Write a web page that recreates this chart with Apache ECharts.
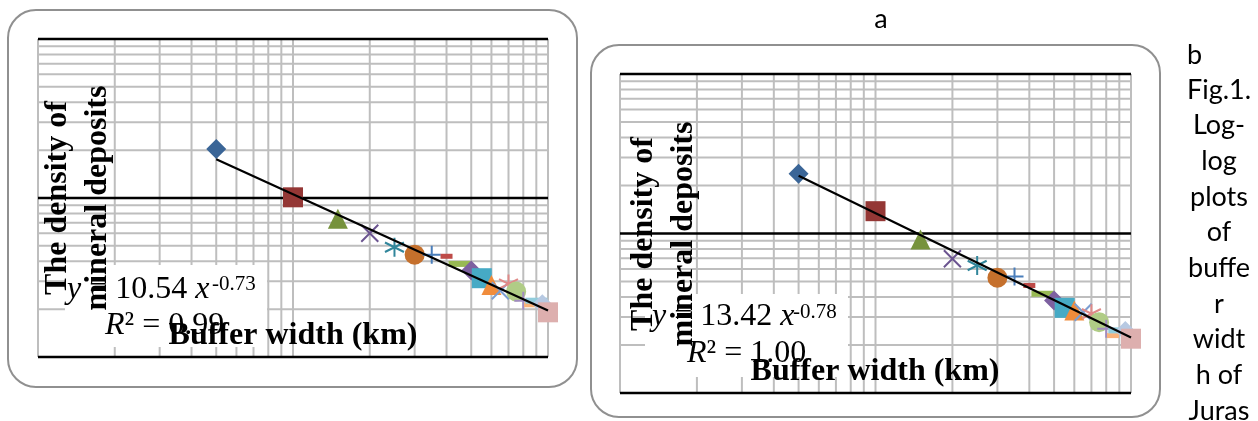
<!DOCTYPE html>
<html><head><meta charset="utf-8">
<script src="https://cdn.jsdelivr.net/npm/echarts@6/dist/echarts.min.js"></script>
<style>html,body{margin:0;padding:0;background:#fff;}#c{width:1258px;height:421px;}</style>
</head><body><div id="c"></div>
<script>
// ---------- data ----------
const bufferWidths = [0.5,1,1.5,2,2.5,3,3.5,4,4.5,5,5.5,6,6.5,7,7.5,8,8.5,9,9.5,10];
const densityA = [20.3,10.1,7.4,6.0,4.9,4.4,4.4,4.3,3.85,3.5,3.13,2.84,2.61,2.88,2.58,2.26,2.13,2.26,2.15,1.91];
const densityB = [23.7,13.8,9.17,6.94,6.3,5.28,5.38,4.72,4.19,3.8,3.42,3.29,3.21,3.14,2.78,2.53,2.29,2.47,2.45,2.19];
const trendA = [[0.5,17.5],[10,1.96]];
const trendB = [[0.5,23.0],[10,2.23]];
const xExtent = [0.1, 10];
const yExtent = [1, 100];
const xGridValues = [0.1,0.2,0.3,0.4,0.5,0.6,0.7,0.8,0.9,1,2,3,4,5,6,7,8,9,10];
const yGridMinor = [2,3,4,5,6,7,8,9,20,30,40,50,60,70,80,90];
const yGridMajor = [1,10,100];
const equationA = ['10.54', '-0.73', '0.99'];
const equationB = ['13.42', '-0.78', '1.00'];
const xTitle = 'Buffer width (km)';
const yTitle = 'The density of\nmineral deposits';
const sideText = 'Fig.1.\nLog-\nlog\nplots\nof\nbuffe\nr\nwidt\nh of\nJuras';

// ---------- styles ----------
const markerKinds = ['diamond','square','triangle','x','star','circle','plus','dash','longdash',
  'diamond','square','triangle','x','star','circle','plus','dash','longdash','diamond','square'];
const markerColors = ['#3A6597','#943735','#76923C','#6B5490','#31869B','#C5702C','#4A7EBB','#BE4B48','#98B954',
  '#7D60A0','#46AAC5','#F08C3C','#7B9ED2','#E08A88','#B0CC86','#A08BC0','#F9B27A','#92CDDC','#B7C9E2','#DDAFAE'];
const SERIF = '"Liberation Serif","Times New Roman",serif';

function markerStyle(kind, color) {
  const stroke = (path, size) => ({symbol: 'path://' + path, symbolSize: size,
    itemStyle: {color: 'rgba(0,0,0,0)', borderColor: color, borderWidth: 2, opacity: 1}});
  const fill = (symbol, size) => ({symbol, symbolSize: size, itemStyle: {color, opacity: 1}});
  switch (kind) {
    case 'diamond': return fill('diamond', 20);
    case 'square': return fill('rect', 20);
    case 'triangle': return fill('triangle', 20);
    case 'circle': return fill('circle', 20);
    case 'dash': return fill('rect', [12, 5]);
    case 'longdash': return fill('rect', [22, 6]);
    case 'x': return stroke('M0,0L10,10M10,0L0,10', 17);
    case 'star': return stroke('M5,0L5,10M0.67,2.5L9.33,7.5M0.67,7.5L9.33,2.5', 19);
    case 'plus': return stroke('M5,0L5,10M0,5L10,5', 18);
  }
}

function gridSeries(idx) {
  const mk = (data, color, width, z) => ({type: 'line', xAxisIndex: idx, yAxisIndex: idx, data,
    symbol: 'none', clip: false, silent: true, animation: false, z,
    lineStyle: {color, width, type: 'solid'}});
  return [].concat(
    xGridValues.map(v => mk([[v, yExtent[0]], [v, yExtent[1]]], '#BEBEBE', 2, 1)),
    yGridMinor.map(v => mk([[xExtent[0], v], [xExtent[1], v]], '#BEBEBE', 2, 1)),
    yGridMajor.map(v => mk([[xExtent[0], v], [xExtent[1], v]], '#000', 2.4, 2))
  );
}

function buildSeries(idx, density, trend) {
  const s = gridSeries(idx);
  density.forEach((d, i) => {
    const m = markerStyle(markerKinds[i], markerColors[i]);
    s.push(Object.assign({type: 'scatter', xAxisIndex: idx, yAxisIndex: idx, z: 3,
      data: [[bufferWidths[i], d]], silent: true, animation: false}, m));
  });
  s.push({type: 'line', xAxisIndex: idx, yAxisIndex: idx, z: 4, data: trend, symbol: 'none',
    lineStyle: {color: '#000', width: 2.2}, silent: true, animation: false});
  return s;
}

const axisX = (g) => ({type: 'log', logBase: 10, gridIndex: g, min: xExtent[0], max: xExtent[1],
  axisLine: {show: false}, axisTick: {show: false}, axisLabel: {show: false}, splitLine: {show: false}});
const axisY = (g) => ({type: 'log', logBase: 10, gridIndex: g, min: yExtent[0], max: yExtent[1],
  axisLine: {show: false}, axisTick: {show: false}, axisLabel: {show: false}, splitLine: {show: false}});

function eqGraphics(eq, o) {
  const rich = {
    i: {font: 'italic 32px ' + SERIF, fill: '#000'},
    n: {font: '32px ' + SERIF, fill: '#000'}
  };
  return [
    {type: 'rect', z: 10, shape: {x: o.bx, y: o.by, width: o.bw, height: o.bh}, style: {fill: '#fff'}},
    {type: 'text', z: 11, x: o.l1x, y: o.l1y, style: {text: '{i|y}{n| = ' + eq[0] + ' }{i|x}', rich,
      align: 'left', verticalAlign: 'middle', textAlign: 'left', textVerticalAlign: 'middle'}},
    {type: 'text', z: 11, x: o.sx, y: o.sy, style: {text: eq[1], font: '21px ' + SERIF, fill: '#000',
      align: 'left', verticalAlign: 'middle', textAlign: 'left', textVerticalAlign: 'middle'}},
    {type: 'text', z: 11, x: o.l2x, y: o.l2y, style: {text: '{i|R}{n|² = ' + eq[2] + '}', rich,
      align: 'left', verticalAlign: 'middle', textAlign: 'left', textVerticalAlign: 'middle'}}
  ];
}

function titleGraphics(o) {
  return [
    {type: 'text', z: 12, x: o.yx, y: o.yy, rotation: Math.PI / 2,
      style: {text: yTitle, font: 'bold 32px ' + SERIF, fill: '#000', lineHeight: 40,
        align: 'center', verticalAlign: 'middle', textAlign: 'center', textVerticalAlign: 'middle'}},
    {type: 'text', z: 12, x: o.xx, y: o.xy,
      style: {text: xTitle, font: 'bold 32px ' + SERIF, fill: '#000',
        align: 'center', verticalAlign: 'middle', textAlign: 'center', textVerticalAlign: 'middle'}}
  ];
}

const SANS = 'Lato, "Open Sans", sans-serif';
const graphics = [].concat(
  [{type: 'rect', z: 0, shape: {x: 8, y: 10, width: 569, height: 377, r: 28}, style: {fill: 'none', stroke: '#909090', lineWidth: 2}},
   {type: 'rect', z: 0, shape: {x: 591, y: 45, width: 569, height: 372, r: 28}, style: {fill: 'none', stroke: '#909090', lineWidth: 2}},
   {type: 'text', z: 0, x: 881, y: 19, style: {text: 'a', font: '27px ' + SANS, fill: '#000', align: 'center', verticalAlign: 'middle', textAlign: 'center', textVerticalAlign: 'middle'}},
   {type: 'text', z: 0, x: 1187, y: 55, style: {text: 'b', font: '27px ' + SANS, fill: '#000', align: 'left', verticalAlign: 'middle', textAlign: 'left', textVerticalAlign: 'middle'}},
   {type: 'text', z: 0, x: 1219, y: 72, style: {text: sideText, font: '27px ' + SANS, fill: '#000', lineHeight: 35.7, align: 'center', verticalAlign: 'top', textAlign: 'center', textVerticalAlign: 'top'}}
  ],
  eqGraphics(equationA, {bx: 65, by: 265, bw: 202, bh: 82, l1x: 67, l1y: 290, sx: 212, sy: 284, l2x: 105, l2y: 326}),
  eqGraphics(equationB, {bx: 645, by: 294, bw: 203, bh: 83, l1x: 652, l1y: 317, sx: 793, sy: 312, l2x: 687, l2y: 354}),
  titleGraphics({yx: 78, yy: 198, xx: 293, xy: 336}),
  titleGraphics({yx: 664, yy: 234, xx: 875, xy: 372})
);

const chart = echarts.init(document.getElementById('c'), null, {renderer: 'canvas'});
chart.setOption({
  animation: false,
  backgroundColor: '#fff',
  grid: [
    {left: 38, top: 39, width: 510, height: 318},
    {left: 620, top: 74, width: 511, height: 319}
  ],
  xAxis: [axisX(0), axisX(1)],
  yAxis: [axisY(0), axisY(1)],
  series: [].concat(buildSeries(0, densityA, trendA), buildSeries(1, densityB, trendB)),
  graphic: {elements: graphics}
});
</script></body></html>
